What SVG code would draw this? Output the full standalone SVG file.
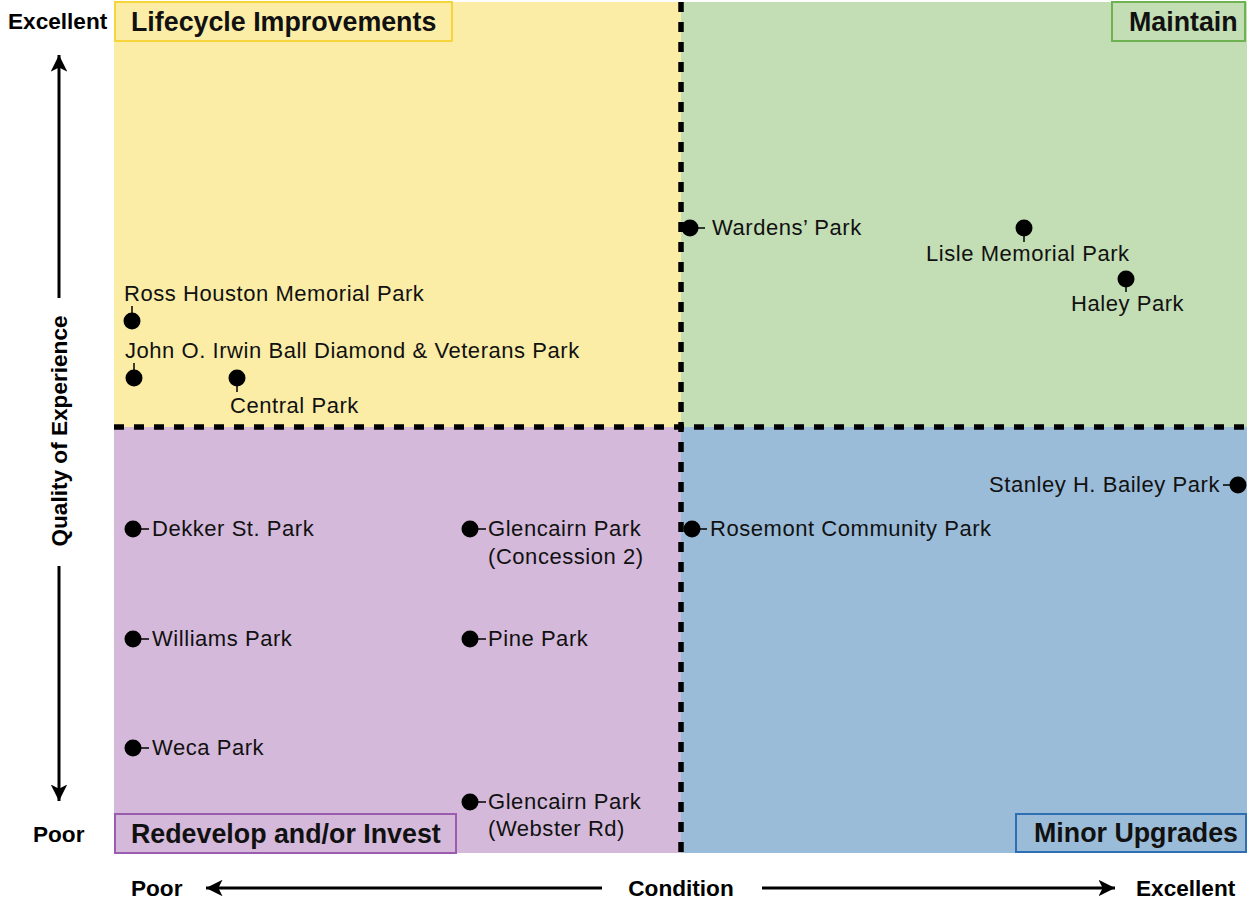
<svg xmlns="http://www.w3.org/2000/svg" width="1247" height="903" viewBox="0 0 1247 903">
<defs>
<marker id="ah" viewBox="0 0 10 10" refX="10" refY="5" markerWidth="5.5" markerHeight="5.5" orient="auto" markerUnits="strokeWidth">
<path d="M0,0 L10,5 L0,10 L2.5,5 Z" fill="#000"/>
</marker>
<style>
.lbl{font-family:"Liberation Sans",Arial,sans-serif;font-size:22px;fill:#111;letter-spacing:0.55px}
.ttl{font-family:"Liberation Sans",Arial,sans-serif;font-size:26.8px;font-weight:bold;fill:#111}
.ax{font-family:"Liberation Sans",Arial,sans-serif;font-size:22.6px;font-weight:bold;fill:#000}
.dot{fill:#000}
.tick{stroke:#000;stroke-width:1.5}
.div{stroke:#000;stroke-width:5.5;stroke-dasharray:10 10;fill:none}
.axl{stroke:#000;stroke-width:3;fill:none}
</style>
</defs>
<rect width="1247" height="903" fill="#fff"/>
<g id="quadrants">
<rect id="q-lifecycle" x="114" y="2" width="567" height="425" fill="#fbeda6"/>
<rect id="q-maintain" x="681" y="2" width="566" height="425" fill="#c3ddb4"/>
<rect id="q-redevelop" x="114" y="427" width="567" height="426" fill="#d4b9da"/>
<rect id="q-minor" x="681" y="427" width="566" height="426" fill="#9bbcd8"/>
</g>
<g id="dividers">
<line class="div" x1="681" y1="2" x2="681" y2="853"/>
<line class="div" x1="114" y1="427" x2="1247" y2="427"/>
</g>
<g id="title-lifecycle">
<rect x="115" y="2" width="337" height="39" fill="#fbeda6" stroke="#f5d43c" stroke-width="2"/>
<text class="ttl" x="131" y="31">Lifecycle Improvements</text>
</g>
<g id="title-maintain">
<rect x="1112" y="2" width="133" height="39" fill="#c3ddb4" stroke="#6db352" stroke-width="2"/>
<text class="ttl" x="1129" y="31">Maintain</text>
</g>
<g id="title-redevelop">
<rect x="115" y="814" width="341" height="39" fill="#d4b9da" stroke="#9b5bae" stroke-width="2"/>
<text class="ttl" x="131" y="843">Redevelop and/or Invest</text>
</g>
<g id="title-minor">
<rect x="1016" y="814" width="230" height="38" fill="#9bbcd8" stroke="#2e6fb4" stroke-width="2"/>
<text class="ttl" x="1034" y="842">Minor Upgrades</text>
</g>
<g id="axes">
<text class="ax" x="8" y="29">Excellent</text>
<text class="ax" x="33" y="842">Poor</text>
<line class="axl" x1="59" y1="298" x2="59" y2="55" marker-end="url(#ah)"/>
<line class="axl" x1="59" y1="566" x2="59" y2="801" marker-end="url(#ah)"/>
<text class="ax" x="0" y="0" text-anchor="middle" transform="translate(67,431) rotate(-90)">Quality of Experience</text>
<text class="ax" x="131" y="896">Poor</text>
<line class="axl" x1="602" y1="888" x2="206" y2="888" marker-end="url(#ah)"/>
<text class="ax" x="681" y="896" text-anchor="middle">Condition</text>
<line class="axl" x1="762" y1="888" x2="1115" y2="888" marker-end="url(#ah)"/>
<text class="ax" x="1136" y="896">Excellent</text>
</g>
<g id="connectors">
<line class="tick" x1="132" y1="313" x2="132" y2="306"/>
<line class="tick" x1="134" y1="370" x2="134" y2="363"/>
<line class="tick" x1="237" y1="386" x2="237" y2="392"/>
<line class="tick" x1="698" y1="228" x2="705" y2="228"/>
<line class="tick" x1="1024" y1="236" x2="1024" y2="242"/>
<line class="tick" x1="1126" y1="287" x2="1126" y2="292"/>
<line class="tick" x1="1230" y1="485" x2="1223" y2="485"/>
<line class="tick" x1="700" y1="529" x2="707" y2="529"/>
<line class="tick" x1="141" y1="529" x2="149" y2="529"/>
<line class="tick" x1="141" y1="639" x2="149" y2="639"/>
<line class="tick" x1="141" y1="748" x2="149" y2="748"/>
<line class="tick" x1="478" y1="529" x2="486" y2="529"/>
<line class="tick" x1="478" y1="639" x2="486" y2="639"/>
<line class="tick" x1="478" y1="802" x2="486" y2="802"/>
</g>
<g id="ross-houston"><circle class="dot" cx="132" cy="321" r="8.5"/><text class="lbl" x="124" y="301">Ross Houston Memorial Park</text></g>
<g id="john-irwin"><circle class="dot" cx="134" cy="378" r="8.5"/><text class="lbl" x="125" y="358">John O. Irwin Ball Diamond &amp; Veterans Park</text></g>
<g id="central-park"><circle class="dot" cx="237" cy="378" r="8.5"/><text class="lbl" x="230" y="413">Central Park</text></g>
<g id="wardens-park"><circle class="dot" cx="690" cy="228" r="8.5"/><text class="lbl" x="712" y="235">Wardens’ Park</text></g>
<g id="lisle-memorial"><circle class="dot" cx="1024" cy="228" r="8.5"/><text class="lbl" x="926" y="261">Lisle Memorial Park</text></g>
<g id="haley-park"><circle class="dot" cx="1126" cy="279" r="8.5"/><text class="lbl" x="1071" y="311">Haley Park</text></g>
<g id="stanley-bailey"><circle class="dot" cx="1238" cy="485" r="8.5"/><text class="lbl" x="1220" y="492" text-anchor="end">Stanley H. Bailey Park</text></g>
<g id="rosemont"><circle class="dot" cx="692" cy="529" r="8.5"/><text class="lbl" x="710" y="536">Rosemont Community Park</text></g>
<g id="dekker"><circle class="dot" cx="133" cy="529" r="8.5"/><text class="lbl" x="152" y="536">Dekker St. Park</text></g>
<g id="williams"><circle class="dot" cx="133" cy="639" r="8.5"/><text class="lbl" x="152" y="646">Williams Park</text></g>
<g id="weca"><circle class="dot" cx="133" cy="748" r="8.5"/><text class="lbl" x="152" y="755">Weca Park</text></g>
<g id="glencairn-concession"><circle class="dot" cx="470" cy="529" r="8.5"/><text class="lbl" x="488" y="536">Glencairn Park</text><text class="lbl" x="488" y="564">(Concession 2)</text></g>
<g id="pine-park"><circle class="dot" cx="470" cy="639" r="8.5"/><text class="lbl" x="488" y="646">Pine Park</text></g>
<g id="glencairn-webster"><circle class="dot" cx="470" cy="802" r="8.5"/><text class="lbl" x="488" y="809">Glencairn Park</text><text class="lbl" x="488" y="836">(Webster Rd)</text></g>
</svg>
